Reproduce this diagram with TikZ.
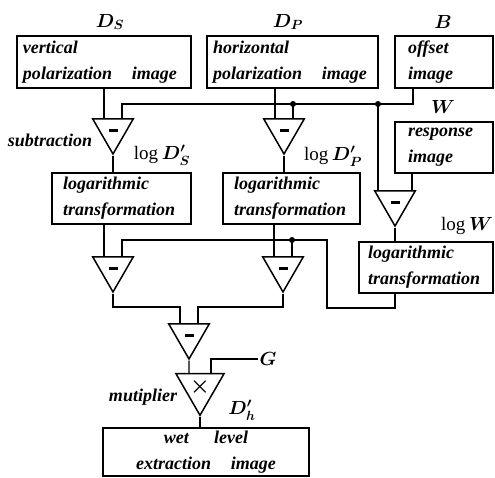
\RequirePackage{fix-cm}
\documentclass[tikz,border=0pt]{standalone}
\usepackage{amsmath}
\usepackage{fontspec}
\setmainfont{Liberation Serif}
\usetikzlibrary{shapes.geometric}
\tikzset{
  box/.style={draw,line width=1.5pt,inner xsep=6pt,inner ysep=0pt,
    minimum height=51pt,align=left,
    font=\fontsize{18}{26}\selectfont\bfseries\itshape},
  amp/.style={draw,line width=1.5pt,regular polygon,regular polygon sides=3,
    shape border rotate=180,minimum size=47pt,inner sep=0pt},
  lbl/.style={inner sep=1pt,font=\fontsize{19}{21}\selectfont\boldmath},
  txt/.style={inner sep=1pt,font=\fontsize{18}{20}\selectfont\bfseries\itshape},
  wire/.style={line width=1.3pt}
}
\newcommand\ampminus{\smash{\rule[-1.1pt]{9pt}{2.4pt}}}
\newcommand\ampmult{\smash{\raisebox{-4.5pt}{\fontsize{22}{22}\selectfont$\boldsymbol{\times}$}}}

\begin{document}
\begin{tikzpicture}[x=1pt,y=-1pt]
\useasboundingbox (0,0) rectangle (495,477);

\node[box,minimum height=52pt,text width=162pt] (vp) at (104,62)
  {vertical\\polarization\hspace{1.1em}image};
\node[box,minimum height=52pt,text width=159pt] (hp) at (292.5,62)
  {horizontal\\polarization\hspace{1.1em}image};
\node[box,minimum height=52pt,inner xsep=13pt,text width=72pt] (off) at (444,62)
  {offset\\image};
\node[box,inner xsep=13pt,text width=72pt] (resp) at (444,147.5)
  {response\\image};
\node[box,inner xsep=11pt,text width=117pt] (lgs) at (121.5,198.5)
  {logarithmic\\transformation};
\node[box,inner xsep=11pt,text width=115pt] (lgp) at (291.5,198.5)
  {logarithmic\\transformation};
\node[box,inner xsep=9pt,text width=116pt] (lgw) at (426,267.5)
  {logarithmic\\transformation};
\node[box,align=center,minimum height=48pt,text width=194pt] (wet) at (206,452)
  {wet\hspace{1.4em}level\\extraction\hspace{1.1em}image};

\node[amp] (t1) at (113,130.5) {\ampminus};
\node[amp] (t2) at (284,130.5) {\ampminus};
\node[amp] (t3) at (395,202.5) {\ampminus};
\node[amp] (t4) at (113,268.5) {\ampminus};
\node[amp] (t5) at (283,268.5) {\ampminus};
\node[amp] (t6) at (189,335.5) {\ampminus};
\node[amp] (t7) at (200,387.5) {\ampmult};
\coordinate (t1l) at ([xshift=-9pt]t1.north);
\coordinate (t1r) at ([xshift=9pt]t1.north);
\coordinate (t2l) at ([xshift=-9pt]t2.north);
\coordinate (t2r) at ([xshift=9pt]t2.north);
\coordinate (t3l) at ([xshift=-17pt]t3.north);
\coordinate (t3r) at ([xshift=17pt]t3.north);
\coordinate (t4l) at ([xshift=-9pt]t4.north);
\coordinate (t4r) at ([xshift=9pt]t4.north);
\coordinate (t5l) at ([xshift=-9pt]t5.north);
\coordinate (t5r) at ([xshift=9pt]t5.north);
\coordinate (t6l) at ([xshift=-9pt]t6.north);
\coordinate (t6r) at ([xshift=9pt]t6.north);
\coordinate (t7l) at ([xshift=-11pt]t7.north);
\coordinate (t7r) at ([xshift=11pt]t7.north);

\node[lbl] (ds) at (110,22) {$D_S$};
\node[lbl] (dp) at (288,22) {$D_P$};
\node[lbl] (b) at (443,22) {$B$};
\node[lbl] (w) at (443,107) {$W$};
\node[lbl] (lds) at (162,155) {$\text{log}\,D'_S$};
\node[lbl] (ldp) at (333,156) {$\text{log}\,D'_P$};
\node[lbl] (lw) at (467,226) {$\text{log}\,W$};
\node[txt] (sub) at (50,140) {subtraction};
\node[txt] (mul) at (143,397) {mutiplier};
\node[lbl] (dh) at (242,410) {$D'_h$};
\node[lbl] (G) at (268,359) {$G$};

\coordinate (busB) at (413,104);
\coordinate (bus2) at (327,240);
\coordinate (loop) at (327,308);
\coordinate (mid) at (189,307);

\draw[wire] (t1l |- vp.south) -- (t1l);
\draw[wire] (busB |- off.south) -- (busB) -- (busB -| t1r) -- (t1r);
\draw[wire] (t2l |- hp.south) -- (t2l);
\draw[wire] (t2r |- busB) -- (t2r);
\draw[wire] (t3l |- busB) -- (t3l);
\draw[wire] (t3r |- resp.south) -- (t3r);
\fill (t2r |- busB) circle (3pt);
\fill (t3l |- busB) circle (3pt);
\draw[wire] (t1.south) -- (t1.south |- lgs.north);
\draw[wire] (t2.south) -- (t2.south |- lgp.north);
\draw[wire] (t3.south) -- (t3.south |- lgw.north);
\draw[wire] (t4l |- lgs.south) -- (t4l);
\draw[wire] (t5l |- lgp.south) -- (t5l);
\draw[wire] (t3.south |- lgw.south) |- (loop) -- (bus2) -- (bus2 -| t4r) -- (t4r);
\draw[wire] (t5r |- bus2) -- (t5r);
\fill (t5r |- bus2) circle (3pt);
\draw[wire] (t4.south) |- (t6l |- mid) -- (t6l);
\draw[wire] (t5.south) |- (t6r |- mid) -- (t6r);
\draw[wire] (t6.south) -- (t7l);
\draw[wire] (t7r) |- (G.west);
\draw[wire] (t7.south) -- (t7.south |- wet.north);
\end{tikzpicture}
\end{document}
